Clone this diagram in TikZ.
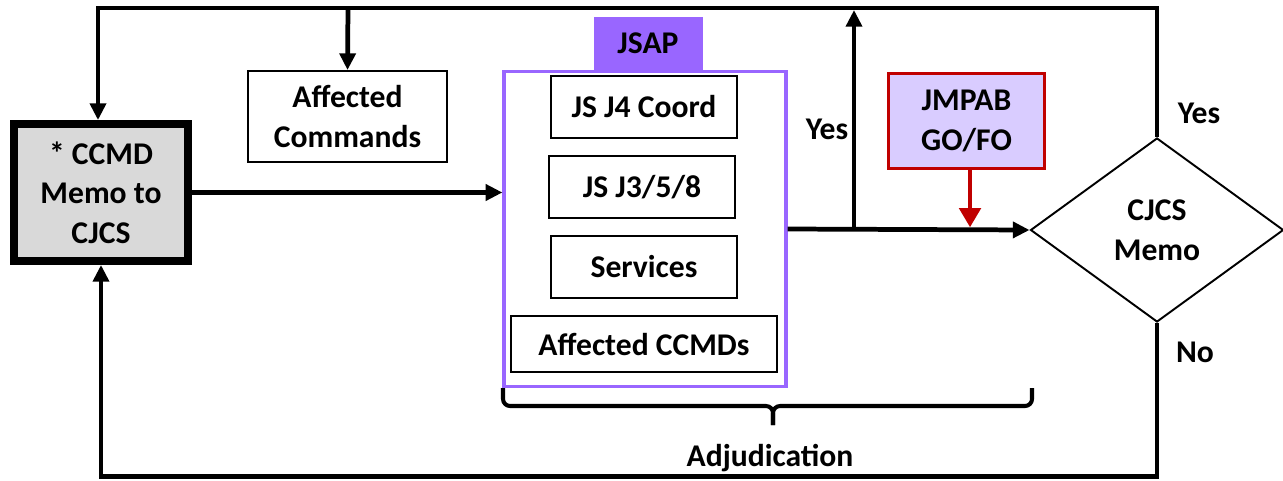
\documentclass[tikz,border=0pt]{standalone}
\usepackage{fontspec}
\setmainfont{Carlito}
\usetikzlibrary{arrows.meta}
\usetikzlibrary{shapes.geometric}
\definecolor{jsapPurple}{HTML}{9966FF}
\definecolor{boardRed}{HTML}{C00000}
\definecolor{boardLilac}{HTML}{D9CCFF}
\definecolor{memoGray}{HTML}{D9D9D9}
\newcommand{\feedbackLoops}{%%
  %% The Yes loop back to the CCMD memo.
  \draw[arrowStyle] (cjcs.north) |- (topLeft) -- (topLeft |- ccmd.north);
  \draw[arrowStyle] (topBranch) -- (affCmds.north);
  %% The No loop back to the CCMD memo.
  \draw[arrowStyle] (cjcs.south) |- (bottomLeft) -- (ccmd.south);
}
\newcommand{\adjudicationBrace}{%%
  \draw[braceStyle] (braceLeft) |- (braceTip) -- ++(0,19);
  \draw[braceStyle] (braceRight) |- (braceTip) -- ++(0,19);
  \node[labelStyle] (adjLabel) at (770,458) {Adjudication};
}

\begin{document}
\begin{tikzpicture}[%%
  x=0.02cm,y=-0.02cm,%%
  font=\fontsize{18}{22.6}\selectfont\bfseries,%%
  sizeStyle/.style 2 args={minimum width=#1*0.02cm,minimum height=#2*0.02cm},%%
  lineStyle/.style={line width=2.7pt},%%
  arrowStyle/.style={lineStyle,-{Triangle[length=9.5pt,width=9pt]}},%%
  redArrowStyle/.style={line width=2.8pt,boardRed,-{Triangle[length=11pt,width=12pt]}},%%
  boxStyle/.style={draw,line width=1.1pt,align=center,inner sep=0pt},%%
  memoStyle/.style={boxStyle,line width=4.5pt,fill=memoGray},%%
  frameStyle/.style={draw=jsapPurple,line width=1.8pt,inner sep=0pt},%%
  tabStyle/.style={fill=jsapPurple,inner sep=0pt},%%
  boardStyle/.style={boxStyle,draw=boardRed,line width=1.7pt,fill=boardLilac},%%
  decisionStyle/.style={diamond,draw,line width=1.1pt,align=center,inner sep=0pt,sizeStyle={253}{184}},%%
  braceStyle/.style={line width=2.3pt,rounded corners=4pt},%%
  labelStyle/.style={inner sep=0pt}
]
\useasboundingbox (0,0) rectangle (1283,480);
%%
%% Corner points of the loops.
\coordinate (topLeft) at (98,8);
\coordinate (topBranch) at (348,8);
\coordinate (yesTop) at (854,10);
\coordinate (bottomLeft) at (101,476.5);
\coordinate (braceLeft) at (503,388);
\coordinate (braceRight) at (1032,388);
\coordinate (braceTip) at (773,406);
%%
%% The boxes.
\node[memoStyle,sizeStyle={174}{137}] (ccmd) at (101,192.5) {* CCMD\\Memo to\\CJCS};
\node[boxStyle,sizeStyle={199}{91}] (affCmds) at (347.5,116.5) {Affected\\Commands};
\node[frameStyle,sizeStyle={282}{315}] (jsap) at (645,229) {};
\node[tabStyle,sizeStyle={109}{53}] (jsapTab) at (648,43.5) {JSAP};
\node[boxStyle,sizeStyle={186}{62}] (j4) at (644,107) {JS J4 Coord};
\node[boxStyle,sizeStyle={186}{62}] (j358) at (642,187) {JS J3/5/8};
\node[boxStyle,sizeStyle={186}{62}] (services) at (644,267) {Services};
\node[boxStyle,sizeStyle={266}{56}] (affCcmds) at (644,344) {Affected CCMDs};
\node[boardStyle,sizeStyle={156}{95}] (jmpab) at (966.5,121) {JMPAB\\GO/FO};
\node[decisionStyle] (cjcs) at (1157,230) {CJCS\\Memo};
%%
%% The flow through the adjudication.
\draw[arrowStyle] (ccmd.east) -- (ccmd.east -| jsap.west);
\draw[arrowStyle] (jsap.east) -- (cjcs.west);
\draw[arrowStyle] (yesTop |- jsap.east) -- (yesTop);
\draw[redArrowStyle] ([xshift=2pt]jmpab.south) -- ([xshift=2pt,yshift=1.5pt]jmpab.south |- cjcs.west);
\feedbackLoops
%%
%% The labels.
\node[labelStyle] (yesUp) at (827,129) {Yes};
\node[labelStyle] (yesRight) at (1199,113) {Yes};
\node[labelStyle] (noLabel) at (1195,352) {No};
\adjudicationBrace
\end{tikzpicture}
\end{document}
